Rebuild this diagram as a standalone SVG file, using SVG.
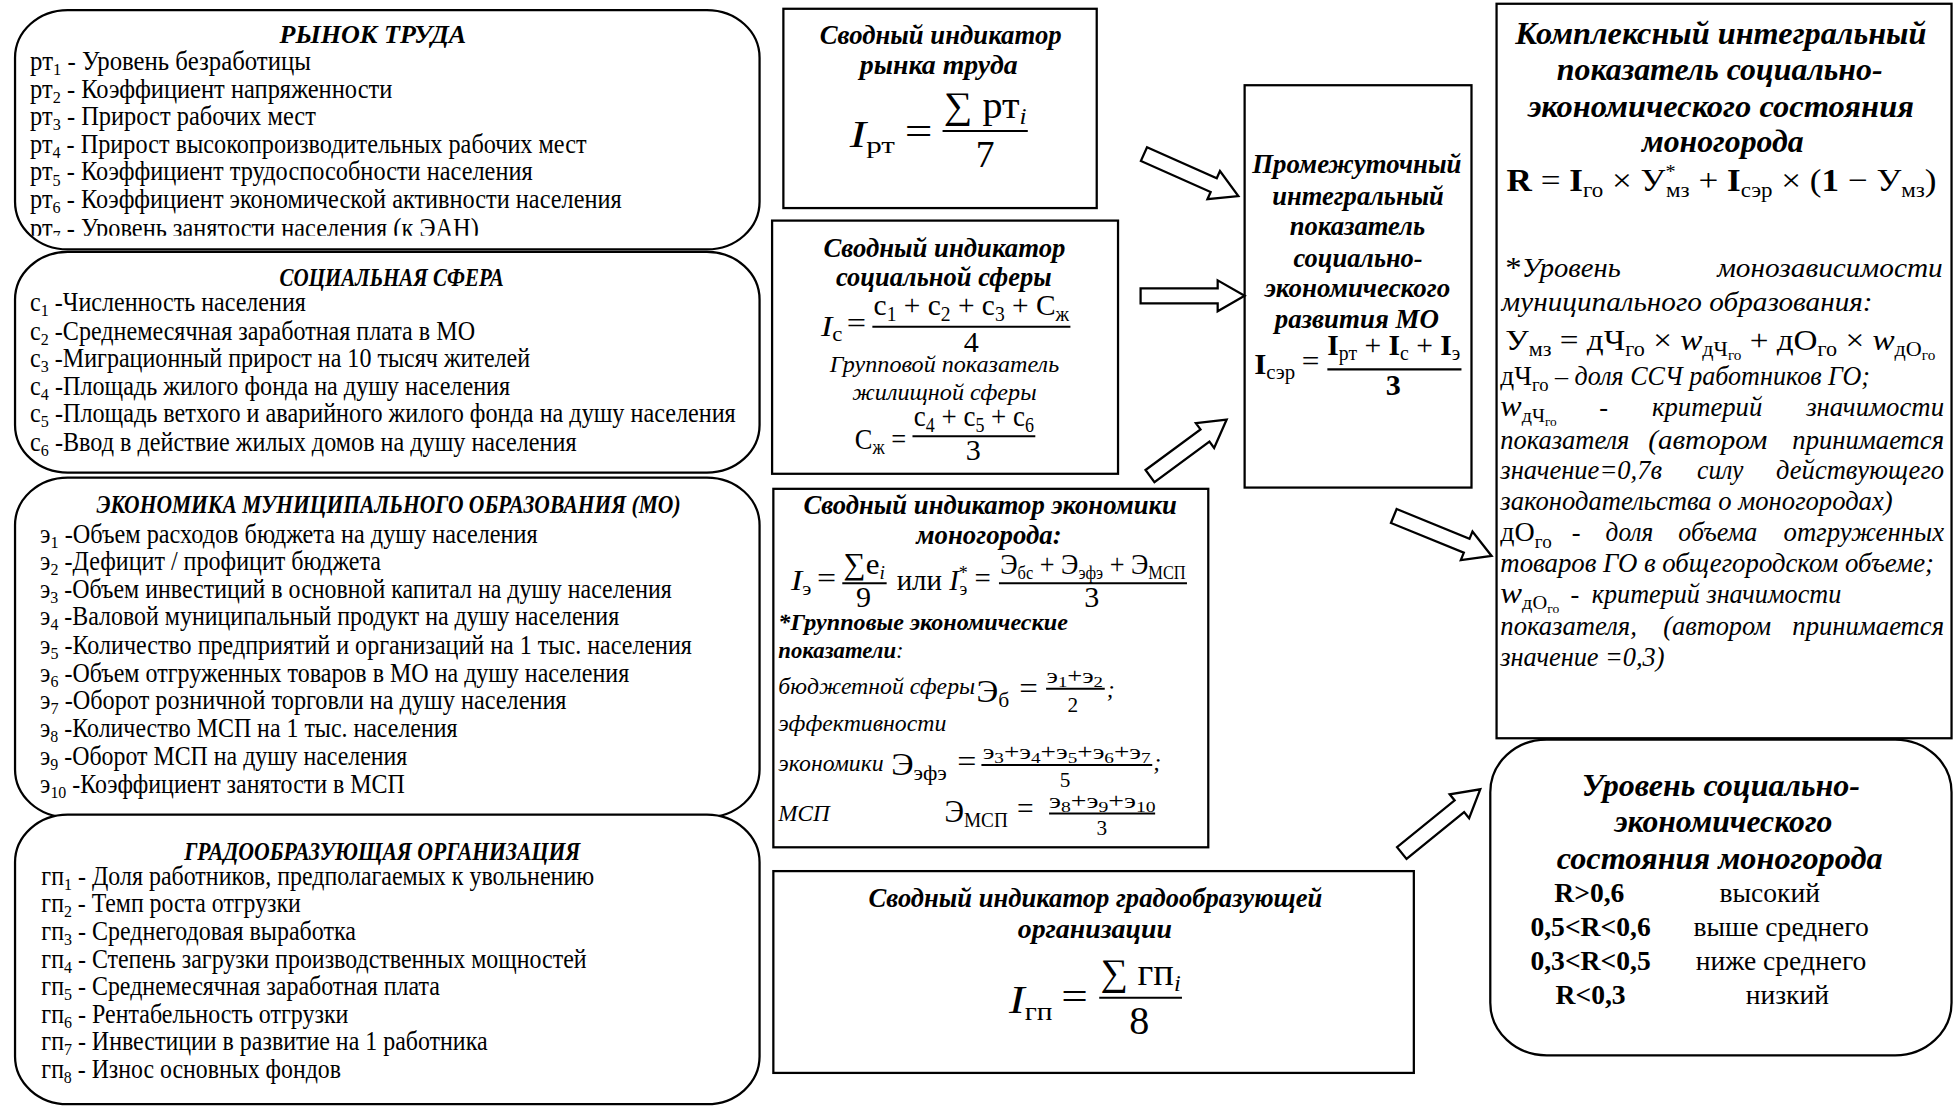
<svg xmlns="http://www.w3.org/2000/svg" width="1959" height="1107" viewBox="0 0 1959 1107">
<style>
.b{fill:#fff;stroke:#000;stroke-width:1.8}
.t{font-family:"Liberation Serif","Times New Roman","DejaVu Serif",serif;fill:#000}
.i{font-style:italic}
.bi{font-weight:bold;font-style:italic}
.bd{font-weight:bold}
.fr{stroke:#000;stroke-width:1.6}
.ar{fill:#fff;stroke:#000;stroke-width:1.8;stroke-linejoin:miter}
</style>
<defs>
<clipPath id="clipA"><rect x="0" y="0" width="620" height="188"/></clipPath>
</defs>
<rect width="1959" height="1107" fill="#fff"/>
<g transform="scale(1.2534)">

<g id="node-rynok-truda">
<rect class="b" x="12" y="8" width="594" height="191" rx="42" ry="38"/>
<text class="t bi" x="223" y="34" font-size="20" textLength="149" lengthAdjust="spacingAndGlyphs">РЫНОК ТРУДА</text>
<g clip-path="url(#clipA)" font-size="21">
<text class="t" x="24" y="56" textLength="224" lengthAdjust="spacingAndGlyphs">рт<tspan font-size="14" dy="4">1</tspan><tspan dy="-4"> - Уровень безработицы</tspan></text>
<text class="t" x="24" y="78" textLength="289" lengthAdjust="spacingAndGlyphs">рт<tspan font-size="14" dy="4">2</tspan><tspan dy="-4"> - Коэффициент напряженности</tspan></text>
<text class="t" x="24" y="100" textLength="228" lengthAdjust="spacingAndGlyphs">рт<tspan font-size="14" dy="4">3</tspan><tspan dy="-4"> - Прирост рабочих мест</tspan></text>
<text class="t" x="24" y="122" textLength="444" lengthAdjust="spacingAndGlyphs">рт<tspan font-size="14" dy="4">4</tspan><tspan dy="-4"> - Прирост высокопроизводительных рабочих мест</tspan></text>
<text class="t" x="24" y="144" textLength="401" lengthAdjust="spacingAndGlyphs">рт<tspan font-size="14" dy="4">5</tspan><tspan dy="-4"> - Коэффициент трудоспособности населения</tspan></text>
<text class="t" x="24" y="166" textLength="472" lengthAdjust="spacingAndGlyphs">рт<tspan font-size="14" dy="4">6</tspan><tspan dy="-4"> - Коэффициент экономической активности населения</tspan></text>
<text class="t" x="24" y="189" textLength="358" lengthAdjust="spacingAndGlyphs">рт<tspan font-size="14" dy="4">7</tspan><tspan dy="-4"> - Уровень занятости населения (к ЭАН)</tspan></text>
</g>
</g>

<g id="node-soc-sfera" font-size="21">
<rect class="b" x="12" y="201" width="594" height="176" rx="42" ry="38"/>
<text class="t bi" x="223" y="228" font-size="20" textLength="179" lengthAdjust="spacingAndGlyphs">СОЦИАЛЬНАЯ СФЕРА</text>
<text class="t" x="24" y="248" textLength="220" lengthAdjust="spacingAndGlyphs">с<tspan font-size="14" dy="4">1</tspan><tspan dy="-4"> -Численность населения</tspan></text>
<text class="t" x="24" y="271" textLength="355" lengthAdjust="spacingAndGlyphs">с<tspan font-size="14" dy="4">2</tspan><tspan dy="-4"> -Среднемесячная заработная плата в МО</tspan></text>
<text class="t" x="24" y="293" textLength="399" lengthAdjust="spacingAndGlyphs">с<tspan font-size="14" dy="4">3</tspan><tspan dy="-4"> -Миграционный прирост на 10 тысяч жителей</tspan></text>
<text class="t" x="24" y="315" textLength="383" lengthAdjust="spacingAndGlyphs">с<tspan font-size="14" dy="4">4</tspan><tspan dy="-4"> -Площадь жилого фонда на душу населения</tspan></text>
<text class="t" x="24" y="337" textLength="563" lengthAdjust="spacingAndGlyphs">с<tspan font-size="14" dy="4">5</tspan><tspan dy="-4"> -Площадь ветхого и аварийного жилого фонда на душу населения</tspan></text>
<text class="t" x="24" y="360" textLength="436" lengthAdjust="spacingAndGlyphs">с<tspan font-size="14" dy="4">6</tspan><tspan dy="-4"> -Ввод в действие жилых домов на душу населения</tspan></text>
</g>

<g id="node-ekonomika-mo" font-size="21">
<rect class="b" x="12" y="381" width="594" height="271" rx="42" ry="38"/>
<text class="t bi" x="77" y="409" font-size="20" textLength="466" lengthAdjust="spacingAndGlyphs">ЭКОНОМИКА МУНИЦИПАЛЬНОГО ОБРАЗОВАНИЯ (МО)</text>
<text class="t" x="32" y="433" textLength="397" lengthAdjust="spacingAndGlyphs">э<tspan font-size="14" dy="4">1</tspan><tspan dy="-4"> -Объем расходов бюджета на душу населения</tspan></text>
<text class="t" x="32" y="455" textLength="272" lengthAdjust="spacingAndGlyphs">э<tspan font-size="14" dy="4">2</tspan><tspan dy="-4"> -Дефицит / профицит бюджета</tspan></text>
<text class="t" x="32" y="477" textLength="504" lengthAdjust="spacingAndGlyphs">э<tspan font-size="14" dy="4">3</tspan><tspan dy="-4"> -Объем инвестиций в основной капитал на душу населения</tspan></text>
<text class="t" x="32" y="499" textLength="462" lengthAdjust="spacingAndGlyphs">э<tspan font-size="14" dy="4">4</tspan><tspan dy="-4"> -Валовой муниципальный продукт на душу населения</tspan></text>
<text class="t" x="32" y="522" textLength="520" lengthAdjust="spacingAndGlyphs">э<tspan font-size="14" dy="4">5</tspan><tspan dy="-4"> -Количество предприятий и организаций на 1 тыс. населения</tspan></text>
<text class="t" x="32" y="544" textLength="470" lengthAdjust="spacingAndGlyphs">э<tspan font-size="14" dy="4">6</tspan><tspan dy="-4"> -Объем отгруженных товаров в МО на душу населения</tspan></text>
<text class="t" x="32" y="566" textLength="420" lengthAdjust="spacingAndGlyphs">э<tspan font-size="14" dy="4">7</tspan><tspan dy="-4"> -Оборот розничной торговли  на душу населения</tspan></text>
<text class="t" x="32" y="588" textLength="333" lengthAdjust="spacingAndGlyphs">э<tspan font-size="14" dy="4">8</tspan><tspan dy="-4"> -Количество МСП на 1 тыс. населения</tspan></text>
<text class="t" x="32" y="610" textLength="293" lengthAdjust="spacingAndGlyphs">э<tspan font-size="14" dy="4">9</tspan><tspan dy="-4"> -Оборот МСП на душу населения</tspan></text>
<text class="t" x="32" y="633" textLength="291" lengthAdjust="spacingAndGlyphs">э<tspan font-size="14" dy="4">10</tspan><tspan dy="-4"> -Коэффициент занятости в МСП</tspan></text>
</g>

<g id="node-gradoobr" font-size="21">
<rect class="b" x="12" y="650" width="594" height="231" rx="42" ry="38"/>
<text class="t bi" x="147" y="686" font-size="20" textLength="316" lengthAdjust="spacingAndGlyphs">ГРАДООБРАЗУЮЩАЯ ОРГАНИЗАЦИЯ</text>
<text class="t" x="33" y="706" textLength="441" lengthAdjust="spacingAndGlyphs">гп<tspan font-size="14" dy="4">1</tspan><tspan dy="-4"> - Доля работников, предполагаемых к увольнению</tspan></text>
<text class="t" x="33" y="728" textLength="207" lengthAdjust="spacingAndGlyphs">гп<tspan font-size="14" dy="4">2</tspan><tspan dy="-4"> - Темп роста отгрузки</tspan></text>
<text class="t" x="33" y="750" textLength="251" lengthAdjust="spacingAndGlyphs">гп<tspan font-size="14" dy="4">3</tspan><tspan dy="-4"> - Среднегодовая выработка</tspan></text>
<text class="t" x="33" y="772" textLength="435" lengthAdjust="spacingAndGlyphs">гп<tspan font-size="14" dy="4">4</tspan><tspan dy="-4"> - Степень загрузки производственных мощностей</tspan></text>
<text class="t" x="33" y="794" textLength="318" lengthAdjust="spacingAndGlyphs">гп<tspan font-size="14" dy="4">5</tspan><tspan dy="-4"> - Среднемесячная заработная плата</tspan></text>
<text class="t" x="33" y="816" textLength="245" lengthAdjust="spacingAndGlyphs">гп<tspan font-size="14" dy="4">6</tspan><tspan dy="-4"> - Рентабельность отгрузки</tspan></text>
<text class="t" x="33" y="838" textLength="356" lengthAdjust="spacingAndGlyphs">гп<tspan font-size="14" dy="4">7</tspan><tspan dy="-4"> - Инвестиции в развитие на 1 работника</tspan></text>
<text class="t" x="33" y="860" textLength="239" lengthAdjust="spacingAndGlyphs">гп<tspan font-size="14" dy="4">8</tspan><tspan dy="-4"> - Износ основных фондов</tspan></text>
</g>

<g id="node-ind-rt">
<rect class="b" x="625" y="7" width="250" height="159"/>
<text class="t bi" x="654" y="35" font-size="21" textLength="193" lengthAdjust="spacingAndGlyphs">Сводный индикатор</text>
<text class="t bi" x="686" y="59" font-size="21" textLength="126" lengthAdjust="spacingAndGlyphs">рынка труда</text>
<text class="t" x="678" y="117" font-size="30" textLength="66" lengthAdjust="spacingAndGlyphs"><tspan class="i">I</tspan><tspan font-size="19" dy="5">рт</tspan><tspan dy="-7" dx="6">=</tspan></text>
<text class="t" x="753" y="94" font-size="30" textLength="66" lengthAdjust="spacingAndGlyphs">∑ рт<tspan class="i" font-size="19" dy="5">i</tspan></text>
<line class="fr" x1="752" y1="104.5" x2="820" y2="104.5" stroke-width="2"/>
<text class="t" x="786" y="133" font-size="30" text-anchor="middle">7</text>
</g>

<g id="node-ind-soc">
<rect class="b" x="616" y="176" width="276" height="202"/>
<text class="t bi" x="657" y="205" font-size="21" textLength="193" lengthAdjust="spacingAndGlyphs">Сводный индикатор</text>
<text class="t bi" x="667" y="228" font-size="21" textLength="172" lengthAdjust="spacingAndGlyphs">социальной сферы</text>
<text class="t" x="655" y="268" font-size="24" textLength="36" lengthAdjust="spacingAndGlyphs"><tspan class="i">I</tspan><tspan font-size="16" dy="4">с</tspan><tspan dy="-6" dx="3">=</tspan></text>
<text class="t" x="697" y="251" font-size="24" textLength="156" lengthAdjust="spacingAndGlyphs">с<tspan font-size="16" dy="5">1</tspan><tspan dy="-5"> + с</tspan><tspan font-size="16" dy="5">2</tspan><tspan dy="-5"> + с</tspan><tspan font-size="16" dy="5">3</tspan><tspan dy="-5"> + С</tspan><tspan font-size="16" dy="5">ж</tspan></text>
<line class="fr" x1="696" y1="260.6" x2="854" y2="260.6"/>
<text class="t" x="775" y="281" font-size="24" text-anchor="middle">4</text>
<text class="t i" x="662" y="297" font-size="19" textLength="183" lengthAdjust="spacingAndGlyphs">Групповой показатель</text>
<text class="t i" x="680" y="319" font-size="19" textLength="147" lengthAdjust="spacingAndGlyphs">жилищной сферы</text>
<text class="t" x="682" y="358" font-size="24" textLength="41" lengthAdjust="spacingAndGlyphs">С<tspan font-size="16" dy="4">ж</tspan><tspan dy="-4"> =</tspan></text>
<text class="t" x="729" y="340" font-size="24" textLength="96" lengthAdjust="spacingAndGlyphs">с<tspan font-size="16" dy="5">4</tspan><tspan dy="-5"> + с</tspan><tspan font-size="16" dy="5">5</tspan><tspan dy="-5"> + с</tspan><tspan font-size="16" dy="5">6</tspan></text>
<line class="fr" x1="728" y1="348" x2="826" y2="348"/>
<text class="t" x="776.5" y="367" font-size="24" text-anchor="middle">3</text>
</g>

<g id="node-ind-ek">
<rect class="b" x="617" y="390" width="347" height="286"/>
<text class="t bi" x="641" y="410" font-size="21" textLength="298" lengthAdjust="spacingAndGlyphs">Сводный индикатор экономики</text>
<text class="t bi" x="731" y="434" font-size="21" textLength="116" lengthAdjust="spacingAndGlyphs">моногорода:</text>
<text class="t" x="631" y="471" font-size="24" textLength="36" lengthAdjust="spacingAndGlyphs"><tspan class="i">I</tspan><tspan font-size="15" dy="4">э</tspan><tspan dy="-6" dx="4">=</tspan></text>
<text class="t" x="673" y="458" font-size="24" textLength="33" lengthAdjust="spacingAndGlyphs">∑e<tspan class="i" font-size="15" dy="4">i</tspan></text>
<line class="fr" x1="672" y1="465.4" x2="707.4" y2="465.4"/>
<text class="t" x="689" y="484" font-size="24" text-anchor="middle">9</text>
<text class="t" x="715.4" y="471" font-size="24" textLength="75" lengthAdjust="spacingAndGlyphs">или <tspan class="i">I</tspan><tspan font-size="15" dy="-9">*</tspan><tspan font-size="15" dx="-7" dy="13">э</tspan><tspan dy="-6" dx="6">=</tspan></text>
<text class="t" x="798" y="458" font-size="24" textLength="148" lengthAdjust="spacingAndGlyphs">Э<tspan font-size="15" dy="4">бс</tspan><tspan dy="-4"> + Э</tspan><tspan font-size="15" dy="4">эфэ</tspan><tspan dy="-4"> + Э</tspan><tspan font-size="15" dy="4">МСП</tspan></text>
<line class="fr" x1="797" y1="465.4" x2="947" y2="465.4"/>
<text class="t" x="871" y="484" font-size="24" text-anchor="middle">3</text>
<text class="t bi" x="621" y="503" font-size="19" textLength="231" lengthAdjust="spacingAndGlyphs">*Групповые экономические</text>
<text class="t i" x="621" y="525" font-size="19" textLength="100" lengthAdjust="spacingAndGlyphs"><tspan font-weight="bold">показатели</tspan>:</text>
<text class="t i" x="621" y="554" font-size="19" textLength="157" lengthAdjust="spacingAndGlyphs">бюджетной сферы</text>
<text class="t" x="779" y="560" font-size="26" textLength="49" lengthAdjust="spacingAndGlyphs">Э<tspan font-size="17" dy="4">б</tspan><tspan dy="-6" dx="8">=</tspan></text>
<text class="t" x="835" y="545" font-size="17" textLength="45" lengthAdjust="spacingAndGlyphs">э<tspan font-size="12" dy="3">1</tspan><tspan dy="-3">+э</tspan><tspan font-size="12" dy="3">2</tspan></text>
<line class="fr" x1="834.6" y1="549.5" x2="881.4" y2="549.5" stroke-width="1.2"/>
<text class="t" x="856" y="567.8" font-size="17" text-anchor="middle">2</text>
<text class="t i" x="883" y="556" font-size="19">;</text>
<text class="t i" x="621" y="583" font-size="19" textLength="134" lengthAdjust="spacingAndGlyphs">эффективности</text>
<text class="t i" x="621" y="615" font-size="19" textLength="84" lengthAdjust="spacingAndGlyphs">экономики</text>
<text class="t" x="711" y="618" font-size="26" textLength="68" lengthAdjust="spacingAndGlyphs">Э<tspan font-size="17" dy="4">эфэ</tspan><tspan dy="-6" dx="8">=</tspan></text>
<text class="t" x="784" y="605.8" font-size="17" textLength="134" lengthAdjust="spacingAndGlyphs">э<tspan font-size="12" dy="3">3</tspan><tspan dy="-3">+э</tspan><tspan font-size="12" dy="3">4</tspan><tspan dy="-3">+э</tspan><tspan font-size="12" dy="3">5</tspan><tspan dy="-3">+э</tspan><tspan font-size="12" dy="3">6</tspan><tspan dy="-3">+э</tspan><tspan font-size="12" dy="3">7</tspan></text>
<line class="fr" x1="783" y1="610.3" x2="919.3" y2="610.3" stroke-width="1.2"/>
<text class="t i" x="920" y="614" font-size="19">;</text>
<text class="t" x="849.7" y="627.6" font-size="17" text-anchor="middle">5</text>
<text class="t i" x="621" y="655" font-size="19" textLength="41" lengthAdjust="spacingAndGlyphs">МСП</text>
<text class="t" x="753.6" y="655.5" font-size="26" textLength="71" lengthAdjust="spacingAndGlyphs">Э<tspan font-size="17" dy="4">МСП</tspan><tspan dy="-6" dx="8">=</tspan></text>
<text class="t" x="837" y="645" font-size="17" textLength="85" lengthAdjust="spacingAndGlyphs">э<tspan font-size="12" dy="3">8</tspan><tspan dy="-3">+э</tspan><tspan font-size="12" dy="3">9</tspan><tspan dy="-3">+э</tspan><tspan font-size="12" dy="3">10</tspan></text>
<line class="fr" x1="837" y1="649" x2="921.6" y2="649" stroke-width="1.2"/>
<text class="t" x="879" y="666" font-size="17" text-anchor="middle">3</text>
</g>

<g id="node-ind-gp">
<rect class="b" x="617" y="695" width="511" height="161"/>
<text class="t bi" x="693" y="724" font-size="21" textLength="362" lengthAdjust="spacingAndGlyphs">Сводный индикатор градообразующей</text>
<text class="t bi" x="812" y="748" font-size="21" textLength="123" lengthAdjust="spacingAndGlyphs">организации</text>
<text class="t" x="805" y="808" font-size="32" textLength="63" lengthAdjust="spacingAndGlyphs"><tspan class="i">I</tspan><tspan font-size="20" dy="6">гп</tspan><tspan dy="-8" dx="6">=</tspan></text>
<text class="t" x="878" y="786" font-size="30" textLength="64" lengthAdjust="spacingAndGlyphs">∑ гп<tspan class="i" font-size="19" dy="5">i</tspan></text>
<line class="fr" x1="877" y1="796" x2="943" y2="796" stroke-width="2"/>
<text class="t" x="909" y="825" font-size="32" text-anchor="middle">8</text>
</g>

<g id="node-prom">
<rect class="b" x="993" y="68" width="181" height="321"/>
<g class="t bi" font-size="22">
<text x="999" y="138" textLength="167" lengthAdjust="spacingAndGlyphs">Промежуточный</text>
<text x="1015" y="163.6" textLength="137" lengthAdjust="spacingAndGlyphs">интегральный</text>
<text x="1029" y="187.5" textLength="108" lengthAdjust="spacingAndGlyphs">показатель</text>
<text x="1032" y="212.8" textLength="103" lengthAdjust="spacingAndGlyphs">социально-</text>
<text x="1009" y="236.7" textLength="148" lengthAdjust="spacingAndGlyphs">экономического</text>
<text x="1017" y="261.8" textLength="131" lengthAdjust="spacingAndGlyphs">развития МО</text>
</g>
<text class="t" x="1000.6" y="298" font-size="24" textLength="52" lengthAdjust="spacingAndGlyphs"><tspan font-weight="bold">I</tspan><tspan font-size="16" dy="4">сэр</tspan><tspan dy="-6" dx="5">=</tspan></text>
<text class="t" x="1059" y="283.3" font-size="24" textLength="106" lengthAdjust="spacingAndGlyphs"><tspan font-weight="bold">I</tspan><tspan font-size="16" dy="4">рт</tspan><tspan dy="-4"> + </tspan><tspan font-weight="bold">I</tspan><tspan font-size="16" dy="4">с</tspan><tspan dy="-4"> + </tspan><tspan font-weight="bold">I</tspan><tspan font-size="16" dy="4">э</tspan></text>
<line class="fr" x1="1059" y1="294.7" x2="1166" y2="294.7" stroke-width="1.8"/>
<text class="t bd" x="1111.6" y="315" font-size="24" text-anchor="middle">3</text>
</g>

<g id="node-kompleks">
<rect class="b" x="1194" y="3" width="363" height="586"/>
<g class="t bi" font-size="26">
<text x="1209" y="35" textLength="328" lengthAdjust="spacingAndGlyphs">Комплексный интегральный</text>
<text x="1242" y="64" textLength="260" lengthAdjust="spacingAndGlyphs">показатель социально-</text>
<text x="1219" y="93" textLength="308" lengthAdjust="spacingAndGlyphs">экономического состояния</text>
<text x="1310" y="121" textLength="129" lengthAdjust="spacingAndGlyphs">моногорода</text>
</g>
<text class="t" x="1202" y="152" font-size="26" textLength="343" lengthAdjust="spacingAndGlyphs"><tspan font-weight="bold">R</tspan> = <tspan font-weight="bold">I</tspan><tspan font-size="17" dy="5">го</tspan><tspan dy="-5"> × У</tspan><tspan font-size="15" dy="-10">*</tspan><tspan font-size="17" dx="-7" dy="15">мз</tspan><tspan dy="-5"> + </tspan><tspan font-weight="bold">I</tspan><tspan font-size="17" dy="5">сэр</tspan><tspan dy="-5"> × (</tspan><tspan font-weight="bold">1</tspan> − У<tspan font-size="17" dy="5">мз</tspan><tspan dy="-5">)</tspan></text>
<g class="t" font-size="21">
<text x="1201" y="221" textLength="92" lengthAdjust="spacingAndGlyphs"><tspan font-size="24">*</tspan><tspan class="i">Уровень</tspan></text>
<text class="i" x="1370" y="221" textLength="180" lengthAdjust="spacingAndGlyphs">монозависимости</text>
<text class="i" x="1198" y="248" textLength="296" lengthAdjust="spacingAndGlyphs">муниципального образования:</text>
<text x="1201" y="279" font-size="24" textLength="343" lengthAdjust="spacingAndGlyphs">У<tspan font-size="16" dy="5">мз</tspan><tspan dy="-5"> = дЧ</tspan><tspan font-size="16" dy="5">го</tspan><tspan dy="-5"> × </tspan><tspan class="i">w</tspan><tspan font-size="16" dy="5">дЧ</tspan><tspan font-size="11" dy="3">го</tspan><tspan dy="-8"> + дО</tspan><tspan font-size="16" dy="5">го</tspan><tspan dy="-5"> × </tspan><tspan class="i">w</tspan><tspan font-size="16" dy="5">дО</tspan><tspan font-size="11" dy="3">го</tspan></text>
<text x="1197" y="307" textLength="295" lengthAdjust="spacingAndGlyphs"><tspan font-size="22">дЧ</tspan><tspan font-size="15" dy="5">го</tspan><tspan class="i" dy="-5"> – доля ССЧ работников ГО;</tspan></text>
<text x="1197" y="332" textLength="45" lengthAdjust="spacingAndGlyphs"><tspan class="i" font-size="24">w</tspan><tspan font-size="15" dy="5">дЧ</tspan><tspan font-size="10" dy="3">го</tspan></text>
<text class="i" x="1276" y="332">-</text>
<text class="i" x="1318" y="332" textLength="88" lengthAdjust="spacingAndGlyphs">критерий</text>
<text class="i" x="1441" y="332" textLength="110" lengthAdjust="spacingAndGlyphs">значимости</text>
<text class="i" x="1197" y="358" textLength="103" lengthAdjust="spacingAndGlyphs">показателя</text>
<text class="i" x="1315" y="358" textLength="95" lengthAdjust="spacingAndGlyphs">(автором</text>
<text class="i" x="1430" y="358" textLength="121" lengthAdjust="spacingAndGlyphs">принимается</text>
<text class="i" x="1197" y="382" textLength="129" lengthAdjust="spacingAndGlyphs">значение=0,7в</text>
<text class="i" x="1354" y="382" textLength="37" lengthAdjust="spacingAndGlyphs">силу</text>
<text class="i" x="1417" y="382" textLength="134" lengthAdjust="spacingAndGlyphs">действующего</text>
<text class="i" x="1197" y="407" textLength="313" lengthAdjust="spacingAndGlyphs">законодательства о моногородах)</text>
<text x="1197" y="432" textLength="41" lengthAdjust="spacingAndGlyphs"><tspan font-size="22">дО</tspan><tspan font-size="15" dy="5">го</tspan></text>
<text class="i" x="1254" y="432">-</text>
<text class="i" x="1281" y="432" textLength="38" lengthAdjust="spacingAndGlyphs">доля</text>
<text class="i" x="1339" y="432" textLength="63" lengthAdjust="spacingAndGlyphs">объема</text>
<text class="i" x="1423" y="432" textLength="128" lengthAdjust="spacingAndGlyphs">отгруженных</text>
<text class="i" x="1197" y="456" textLength="346" lengthAdjust="spacingAndGlyphs">товаров ГО в общегородском объеме;</text>
<text x="1197" y="481" textLength="47" lengthAdjust="spacingAndGlyphs"><tspan class="i" font-size="24">w</tspan><tspan font-size="15" dy="5">дО</tspan><tspan font-size="10" dy="3">го</tspan></text>
<text class="i" x="1253" y="481">-</text>
<text class="i" x="1270" y="481" textLength="199" lengthAdjust="spacingAndGlyphs">критерий значимости</text>
<text class="i" x="1197" y="507" textLength="109" lengthAdjust="spacingAndGlyphs">показателя,</text>
<text class="i" x="1327" y="507" textLength="86" lengthAdjust="spacingAndGlyphs">(автором</text>
<text class="i" x="1430" y="507" textLength="121" lengthAdjust="spacingAndGlyphs">принимается</text>
<text class="i" x="1197" y="531" textLength="131" lengthAdjust="spacingAndGlyphs">значение =0,3)</text>
</g>
</g>

<g id="node-uroven">
<rect class="b" x="1189" y="590" width="368" height="252" rx="45" ry="42"/>
<g class="t bi" font-size="25">
<text x="1262" y="635" textLength="222" lengthAdjust="spacingAndGlyphs">Уровень социально-</text>
<text x="1288" y="664" textLength="174" lengthAdjust="spacingAndGlyphs">экономического</text>
<text x="1242" y="693" textLength="260" lengthAdjust="spacingAndGlyphs">состояния моногорода</text>
</g>
<g class="t" font-size="22">
<text class="bd" x="1268" y="720" text-anchor="middle">R&gt;0,6</text>
<text x="1412" y="720" text-anchor="middle">высокий</text>
<text class="bd" x="1269" y="747" text-anchor="middle">0,5&lt;R&lt;0,6</text>
<text x="1421" y="747" text-anchor="middle">выше среднего</text>
<text class="bd" x="1269" y="774" text-anchor="middle">0,3&lt;R&lt;0,5</text>
<text x="1421" y="774" text-anchor="middle">ниже среднего</text>
<text class="bd" x="1269" y="801" text-anchor="middle">R&lt;0,3</text>
<text x="1426" y="801" text-anchor="middle">низкий</text>
</g>
</g>

<g id="connectors">
<path class="ar" transform="translate(912.7,122.9) rotate(24)" d="M0,-6 H60.9 V-12.3 L82.4,0 L60.9,12.3 V6 H0 Z"/>
<path class="ar" transform="translate(910,236)" d="M0,-6 H61.5 V-12.3 L83,0 L61.5,12.3 V6 H0 Z"/>
<path class="ar" transform="translate(917.5,379.8) rotate(-36.4)" d="M0,-6 H54.5 V-12.3 L76,0 L54.5,12.3 V6 H0 Z"/>
<path class="ar" transform="translate(1112,411.7) rotate(22.2)" d="M0,-6 H62.8 V-12.3 L84.3,0 L62.8,12.3 V6 H0 Z"/>
<path class="ar" transform="translate(1118.4,680.6) rotate(-39.1)" d="M0,-6 H59.2 V-12.3 L80.7,0 L59.2,12.3 V6 H0 Z"/>
</g>
</g>
</svg>
